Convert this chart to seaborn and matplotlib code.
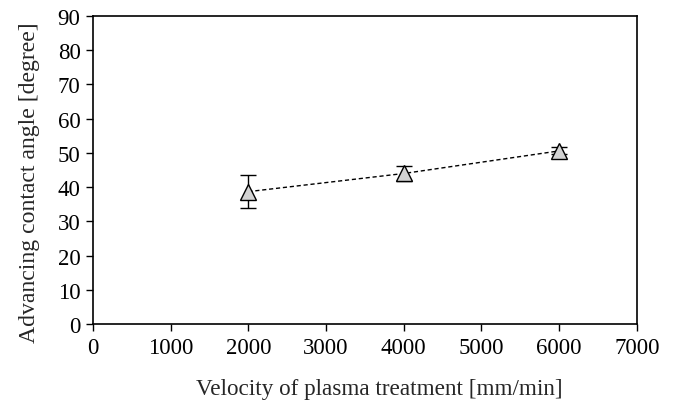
import matplotlib
matplotlib.use("Agg")
import matplotlib.pyplot as plt
import seaborn as sns
import pandas as pd

velocity = [2000, 4000, 6000]
angle = [38.7, 44.0, 50.6]
error = [4.9, 2.3, 1.0]
x_ticks = [0, 1000, 2000, 3000, 4000, 5000, 6000, 7000]
y_ticks = [0, 10, 20, 30, 40, 50, 60, 70, 80, 90]

sns.set_style("white")
plt.rcParams['font.family'] = ['Liberation Serif', 'DejaVu Serif']

df = pd.DataFrame({"v": velocity, "a": angle, "e": error})

fig = plt.figure(figsize=(6.76, 4.10), dpi=100)
ax = fig.add_axes([0.1376, 0.207, 0.8044, 0.7515])

ax.errorbar(df["v"], df["a"], yerr=df["e"], fmt="none", ecolor="black",
            elinewidth=1.0, capsize=6, capthick=1.0, zorder=2)
sns.lineplot(data=df, x="v", y="a", ax=ax, color="black", linewidth=1.0,
             linestyle=(0, (3, 2)), marker="^", markersize=11,
             markerfacecolor="#d3d3d3", markeredgecolor="black",
             markeredgewidth=1.0, zorder=3)

ax.set_xlim(0, 7000)
ax.set_ylim(0, 90)
ax.set_xticks(x_ticks)
ax.set_yticks(y_ticks)
ax.tick_params(axis="both", direction="out", length=5, width=1.0,
               labelsize=16.5, colors="black", left=True, bottom=True, pad=4)
for s in ax.spines.values():
    s.set_color("black")
    s.set_linewidth(1.2)
ax.set_xlabel("Velocity of plasma treatment [mm/min]", fontsize=16.7)
ax.set_ylabel("Advancing contact angle [degree]", fontsize=17.1)
ax.xaxis.set_label_coords(0.526, -0.175)
ax.yaxis.set_label_coords(-0.098, 0.461)

fig.savefig("out.png", dpi=100)
